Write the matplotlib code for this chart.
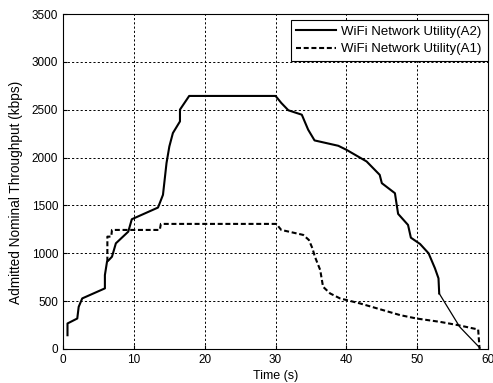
import matplotlib
matplotlib.use("Agg")
import matplotlib.pyplot as plt

plt.rcParams['font.family'] = ['Liberation Sans', 'DejaVu Sans']
TICK_FONT = ['Liberation Sans Narrow', 'Liberation Sans', 'DejaVu Sans']

# WiFi Network Utility(A2) - solid
t_a2 = [0.62, 0.62, 2.0, 2.2, 2.7, 5.9, 5.9, 6.2, 6.45, 6.9, 7.45, 9.2, 9.7, 13.4, 14.1,
        14.6, 15.0, 15.5, 16.5, 16.5, 17.8, 30.0, 30.8, 31.8, 33.7, 34.1, 34.6, 35.5,
        38.85, 40.0, 42.85, 44.7, 45.0, 46.85, 47.1, 47.3, 48.7, 49.1, 50.4, 51.6,
        52.5, 53.0, 53.1, 56.0, 58.85]
y_a2 = [143, 266, 318, 440, 528, 633, 772, 912, 929, 964, 1104, 1226, 1356, 1478, 1611,
        1943, 2117, 2257, 2379, 2502, 2645, 2645, 2572, 2495, 2449, 2379, 2292, 2180,
        2124, 2082, 1960, 1820, 1733, 1628, 1506, 1412, 1296, 1163, 1097, 1000,
        843, 738, 580, 230, 10]

# WiFi Network Utility(A1) - dashed
t_a1 = [6.25, 6.25, 6.8, 6.9, 13.65, 13.8, 30.1, 30.8, 33.9, 34.7, 35.2, 35.55, 36.3,
        36.7, 37.7, 39.1, 41.9, 47.6, 49.9, 53.2, 55.8, 58.6, 58.8]
y_a1 = [912, 1174, 1174, 1244, 1244, 1307, 1307, 1244, 1192, 1139, 1052, 964, 825,
        650, 580, 528, 476, 353, 318, 283, 248, 203, 0]

labels = ['WiFi Network Utility(A2)', 'WiFi Network Utility(A1)']
xticks = [0, 10, 20, 30, 40, 50, 60]
yticks = [0, 500, 1000, 1500, 2000, 2500, 3000, 3500]

fig = plt.figure(figsize=(4.93, 3.83), dpi=100)
ax = fig.add_axes([0.128, 0.089, 0.862, 0.874])

# thin tail of the A2 curve (rendered thinner in the original), thick main part
ax.plot(t_a2[-3:], y_a2[-3:], color='black', lw=0.9)
ax.plot(t_a2[:-2], y_a2[:-2], color='black', lw=1.5, label=labels[0])
ax.plot(t_a1, y_a1, color='black', lw=1.5, dashes=(2.4, 1.3), label=labels[1])

ax.set_xlim(0, 60)
ax.set_ylim(0, 3500)
ax.set_xticks(xticks)
ax.set_yticks(yticks)
ax.grid(True, color='black', linestyle=(0, (2.2, 2.2)), linewidth=0.7)
ax.tick_params(direction='in', length=3, labelsize=8.5, colors='black')
for lab in ax.get_xticklabels() + ax.get_yticklabels():
    lab.set_family(TICK_FONT)
for s in ax.spines.values():
    s.set_linewidth(0.8)

ax.set_xlabel('Time (s)', fontsize=9.0, labelpad=3)
ax.set_ylabel('Admitted Nominal Throughput (kbps)', fontsize=9.8)
ax.yaxis.set_label_coords(-0.094, 0.469)

leg = ax.legend(loc='upper right', bbox_to_anchor=(0.999, 0.984), fontsize=9.5,
                frameon=True, fancybox=False, edgecolor='black', framealpha=1,
                handlelength=3.0, borderaxespad=0, labelspacing=0.4,
                handletextpad=0.4, borderpad=0.45)
leg.get_frame().set_linewidth(0.8)

fig.savefig('out.png', dpi=100)
